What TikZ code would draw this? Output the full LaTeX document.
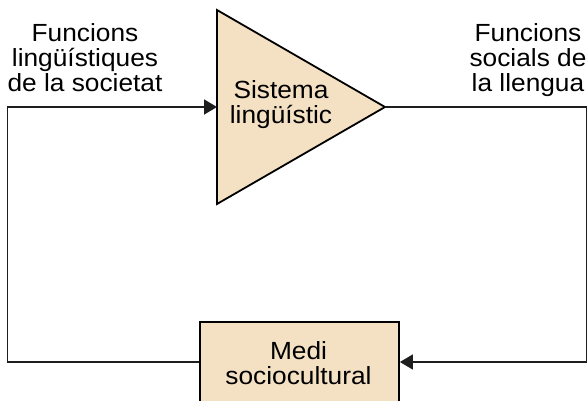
\documentclass[tikz,border=0pt]{standalone}
\usepackage{fontspec}
\setmainfont{Liberation Sans}[FakeStretch=1.06]
\usetikzlibrary{arrows.meta}
\definecolor{fillc}{RGB}{244,224,194}
\tikzset{
  conn/.style={line width=1.6pt, draw={rgb,255:red,30;green,30;blue,30}},
  arr/.style={conn, -{Triangle[length=13pt,width=15pt]}},
  lbl/.style={inner sep=0pt, align=center, anchor=north, font=\fontsize{24.8}{25}\selectfont},
  shapebox/.style={draw=black, line width=1.8pt, fill=fillc}
}
\begin{document}
\begin{tikzpicture}[x=1pt,y=-1pt]
\clip (0,0) rectangle (588,400);
\fill[white] (0,0) rectangle (588,400);
% triangle
\coordinate (ttop) at (217,10);
\coordinate (tbot) at (217,204);
\coordinate (apex) at (385,107);
\coordinate (tin) at (217,107);
\filldraw[shapebox, line join=miter] (ttop) -- (apex) -- (tbot) -- cycle;
\node[lbl] (sis) at (281,80) {Sistema\\lingüístic};
% box
\node[shapebox, minimum width=199pt, minimum height=80pt, inner sep=0pt] (medi) at (299.5,362) {};
\node[lbl] (meditxt) at (298.5,341) {Medi\\sociocultural};
% labels
\node[lbl] (lf) at (85,23.5) {Funcions\\lingüístiques\\de la societat};
\node[lbl] (rf) at (528,23.5) {Funcions\\socials de\\la llengua};
% connectors
\coordinate (bl) at (7.5,362);
\coordinate (tl) at (7.5,107);
\coordinate (tr) at (586.5,107);
\coordinate (br) at (586.5,362);
\draw[arr] (medi.west) -- (bl) -- (tl) -- (tin);
\draw[arr] (apex) -- (tr) -- (br) -- (medi.east);
\end{tikzpicture}
\end{document}
